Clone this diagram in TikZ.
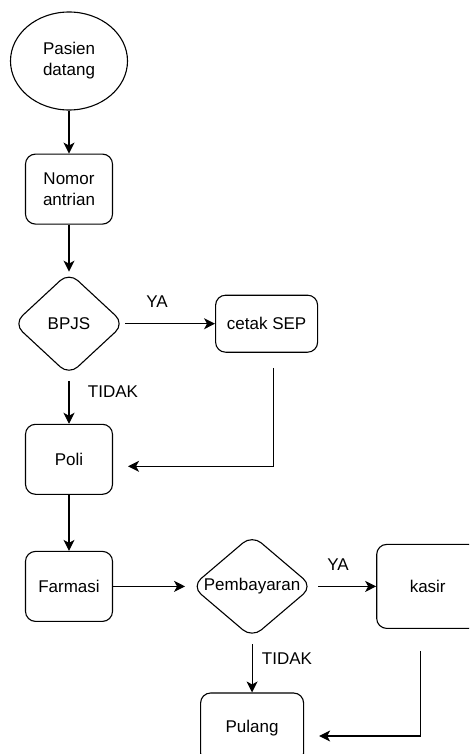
\documentclass[tikz,border=0pt]{standalone}
\usepackage{fontspec}
\setmainfont{Liberation Sans}
\usetikzlibrary{shapes.geometric,arrows.meta,positioning}

\begin{document}
\begin{tikzpicture}[
    x=1pt, y=1pt,
    font=\fontsize{17}{21}\selectfont,
    terminal/.style={ellipse, draw, line width=1.1pt, minimum width=117pt, minimum height=98pt, align=center, inner sep=0pt},
    box/.style={rectangle, draw, line width=1.1pt, rounded corners=10pt, minimum width=87pt, minimum height=70pt, align=center, inner sep=0pt},
    decision/.style={diamond, draw, line width=1.1pt, rounded corners=12pt, aspect=1.17, inner sep=0pt, minimum width=111pt, minimum height=103pt},
    note/.style={inner sep=0pt},
    arrow/.style={-{Stealth[length=11pt,width=11pt,inset=3pt]}, line width=1.1pt}
]
\clip (0,0) rectangle (469,-754);

% Start
\node[terminal] (pasien) at (69,-61) {Pasien\\datang};

% Registration
\node[box, below=43pt of pasien] (nomor) {Nomor\\antrian};
\node[decision, below=47pt of nomor] (bpjs) {BPJS};
\node[box, right=90pt of bpjs, minimum width=102pt, minimum height=57pt] (cetak) {cetak SEP};

% Treatment
\node[box, below=48pt of bpjs] (poli) {Poli};
\node[box, below=56pt of poli] (farmasi) {Farmasi};

% Payment
\node[decision, right=78pt of farmasi, minimum width=121pt] (bayar) {Pembayaran};
\node[box, right=63pt of bayar, minimum width=102pt, minimum height=84pt] (kasir) {kasir};
\node[box, below=54pt of bayar, minimum width=103pt] (pulang) {Pulang};

% Labels
\node[note] (ya1) at (157,-302) {YA};
\node[note] (tidak1) at (113,-392) {TIDAK};
\node[note] (ya2) at (338,-565) {YA};
\node[note] (tidak2) at (287,-659) {TIDAK};

% Arrows
\draw[arrow] (pasien) -- (nomor);
\draw[arrow] (nomor) -- (bpjs);
\draw[arrow] (bpjs) -- (cetak);
\draw[arrow, shorten <=5pt] (bpjs) -- (poli);
\draw[arrow] ([xshift=7pt,yshift=-15pt]cetak.south) |- ([xshift=15pt,yshift=-7pt]poli.east);
\draw[arrow] (poli) -- (farmasi);
\draw[arrow, shorten >=6pt] (farmasi) -- (bayar);
\draw[arrow, shorten <=5pt] (bayar) -- (kasir);
\draw[arrow, shorten <=6pt] (bayar) -- (pulang);
\draw[arrow] ([xshift=-7pt,yshift=-22pt]kasir.south) |- ([xshift=15pt,yshift=-8pt]pulang.east);

\end{tikzpicture}
\end{document}
